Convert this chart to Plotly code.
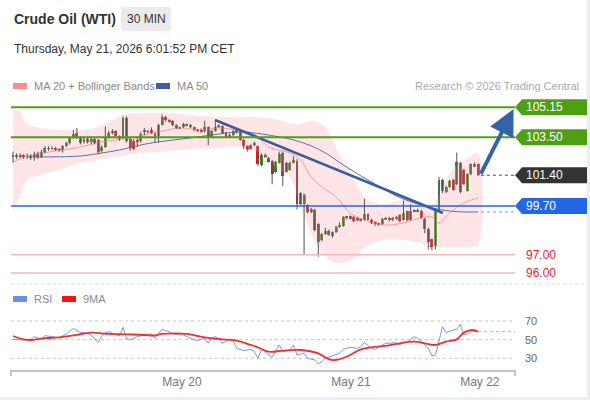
import plotly.graph_objects as go

FONT = "Liberation Sans, Arial, Helvetica, sans-serif"

# ---------------- data (30-min candles, index 0..131) ----------------
opens = [102.45, 102.50, 102.44, 102.48, 102.42, 102.46, 102.40, 102.58, 102.42, 102.70,
         102.90, 102.86, 102.88, 102.82, 102.78, 103.00, 103.18, 103.45, 103.72, 103.48,
         103.22, 103.40, 103.25, 103.40, 103.35, 102.75, 102.95, 103.48, 103.75, 103.85,
         103.55, 103.45, 104.55, 103.40, 103.30, 103.35, 103.30, 103.88, 103.80, 103.90,
         103.70, 103.55, 104.20, 104.62, 104.45, 104.40, 104.18, 104.02, 104.05, 104.20,
         104.18, 104.05, 103.90, 103.92, 103.82, 104.06, 103.50, 103.84, 104.08, 104.10,
         103.75, 103.55, 103.62, 103.85, 103.80, 103.35, 103.00, 102.85, 103.05, 103.00,
         101.98, 102.52, 102.35, 102.20, 101.55, 102.10, 102.60, 102.10, 101.70, 102.10,
         102.20, 100.40, 99.80, 99.75, 99.35, 99.50, 98.70, 97.80, 98.15, 98.30,
         98.05, 98.25, 98.55, 98.60, 99.10, 99.12, 99.10, 99.05, 98.95, 98.95,
         99.25, 98.95, 98.80, 98.68, 98.70, 98.98, 99.05, 98.90, 99.00, 99.20,
         98.95, 99.40, 98.95, 99.45, 99.40, 99.45, 99.00, 98.45, 97.85, 97.50,
         99.40, 100.50, 100.45, 100.75, 101.14, 100.90, 102.10, 101.70, 100.55, 101.45,
         101.90, 102.00]
closes = [102.52, 102.44, 102.48, 102.42, 102.46, 102.40, 102.58, 102.42, 102.70, 102.90,
          102.86, 102.88, 102.82, 102.80, 103.00, 103.18, 103.45, 103.70, 103.48, 103.20,
          103.40, 103.25, 103.40, 103.18, 102.70, 102.95, 103.48, 103.75, 103.85, 103.55,
          103.40, 104.55, 103.30, 102.90, 102.85, 103.25, 103.70, 103.80, 103.82, 103.75,
          103.55, 104.20, 104.62, 104.45, 104.35, 104.18, 104.02, 104.00, 104.22, 104.15,
          104.05, 103.88, 103.88, 103.82, 104.06, 103.45, 103.84, 104.05, 104.12, 103.75,
          103.52, 103.62, 103.85, 103.80, 103.35, 103.00, 102.85, 103.05, 103.18, 102.00,
          102.52, 102.42, 102.15, 101.45, 102.12, 102.55, 101.35, 101.60, 102.10, 102.25,
          99.80, 99.80, 100.30, 99.35, 99.55, 98.40, 97.70, 98.15, 98.30, 98.12,
          98.25, 98.55, 98.65, 99.10, 99.05, 99.00, 98.85, 98.90, 98.92, 99.25,
          98.95, 98.75, 98.68, 98.70, 98.98, 99.02, 98.90, 99.05, 99.08, 98.85,
          99.30, 98.90, 99.45, 99.40, 99.50, 99.05, 98.45, 97.70, 97.45, 99.50,
          101.15, 101.12, 100.75, 101.10, 100.60, 102.13, 100.45, 100.90, 101.45, 102.00,
          102.00, 101.40]
highs = [102.70, 102.60, 102.60, 102.55, 102.60, 102.55, 102.70, 102.70, 102.80, 103.00,
         103.00, 103.00, 102.95, 102.90, 103.05, 103.25, 103.50, 103.90, 104.00, 103.55,
         103.50, 103.50, 103.50, 103.45, 103.40, 103.05, 104.10, 103.85, 103.95, 103.90,
         103.60, 104.65, 104.65, 103.50, 103.40, 103.45, 103.80, 104.00, 103.90, 104.05,
         103.75, 104.25, 104.75, 104.68, 104.50, 104.45, 104.22, 104.08, 104.30, 104.25,
         104.22, 104.08, 103.95, 103.98, 104.40, 104.10, 103.90, 104.40, 104.20, 104.15,
         103.80, 103.70, 103.90, 103.95, 103.85, 103.40, 103.05, 103.10, 103.25, 103.05,
         102.60, 102.60, 102.40, 102.25, 102.20, 102.70, 102.70, 102.15, 102.15, 102.45,
         102.30, 100.45, 100.40, 99.80, 99.60, 99.55, 98.75, 98.20, 98.50, 98.40,
         98.30, 98.60, 98.80, 99.15, 99.15, 99.18, 99.15, 99.10, 99.00, 100.10,
         99.30, 99.00, 98.85, 98.78, 99.05, 99.10, 99.10, 99.10, 99.15, 99.25,
         100.00, 99.45, 99.80, 99.50, 99.55, 99.50, 99.05, 98.50, 97.90, 99.55,
         101.30, 101.20, 100.80, 101.15, 101.20, 102.65, 102.15, 101.75, 101.50, 102.05,
         102.10, 102.05]
lows = [102.10, 102.30, 102.35, 102.30, 102.30, 102.25, 102.20, 102.30, 102.35, 102.60,
        102.75, 102.80, 102.75, 102.70, 102.65, 102.95, 103.10, 103.40, 103.40, 103.10,
        103.15, 103.15, 103.10, 103.10, 102.55, 102.65, 102.90, 103.40, 103.65, 103.45,
        103.30, 103.40, 103.20, 102.75, 102.80, 102.95, 103.20, 103.60, 103.70, 103.70,
        103.20, 103.20, 104.15, 104.35, 104.30, 104.10, 103.95, 103.95, 104.00, 104.10,
        104.00, 103.82, 103.80, 103.75, 103.75, 103.05, 103.45, 103.80, 104.00, 103.70,
        103.45, 103.50, 103.55, 103.70, 103.30, 102.85, 102.70, 102.80, 103.00, 101.90,
        101.90, 102.35, 102.10, 100.90, 101.50, 102.05, 100.80, 101.55, 101.65, 102.05,
        99.50, 99.75, 97.00, 99.30, 99.30, 98.30, 96.90, 97.75, 98.10, 98.05,
        97.95, 98.20, 98.50, 98.55, 98.95, 98.95, 98.80, 98.85, 98.85, 98.90,
        98.90, 98.70, 98.60, 98.60, 98.65, 98.95, 98.85, 98.85, 98.95, 98.80,
        98.90, 98.85, 98.90, 99.35, 99.35, 99.00, 98.20, 97.30, 97.25, 97.30,
        99.35, 100.40, 100.40, 100.70, 100.55, 100.85, 100.40, 100.85, 100.50, 101.40,
        101.85, 101.35]

# Bollinger bands
bb_idx = [0, 2, 4, 8, 13, 19, 23, 27, 32, 36, 41, 47, 53, 58, 63, 68, 75, 80, 85, 88,
          92, 96, 99, 104, 110, 114, 118, 120, 122, 125, 128, 131]
bb_up = [105.11, 104.89, 104.23, 104.01, 103.90, 103.90, 104.01, 104.34, 104.78, 104.84,
         104.84, 104.78, 104.67, 104.62, 104.62, 104.62, 104.45, 104.23, 104.40, 104.06,
         102.52, 101.14, 100.20, 99.81, 100.03, 99.87, 99.64, 100.31, 101.14, 101.97,
         102.35, 102.63]
bl_idx = [0, 2, 4, 8, 13, 19, 23, 27, 32, 36, 41, 47, 53, 58, 63, 68, 72, 75, 78, 80,
          83, 86, 90, 93, 96, 99, 104, 110, 114, 118, 122, 126, 131]
bb_lo = [99.37, 100.20, 101.14, 101.41, 101.69, 102.08, 102.19, 102.35, 102.52, 102.63,
         102.68, 102.79, 102.85, 102.90, 102.95, 102.79, 102.24, 101.69, 101.30, 100.31,
         98.65, 97.38, 96.61, 96.55, 96.83, 97.38, 97.82, 97.82, 97.71, 97.49,
         97.43, 97.43, 97.55]
# MA 20
m20_idx = [0, 4, 10, 14, 19, 25, 33, 41, 47, 53, 58, 63, 68, 72, 78, 81, 84, 87, 91, 95,
           99, 104, 110, 115, 118, 120, 123, 127, 131]
m20 = [102.13, 102.46, 102.68, 102.79, 102.96, 103.24, 103.46, 103.79, 104.01, 103.90,
       104.01, 103.90, 103.68, 102.96, 102.63, 102.24, 101.30, 100.75, 100.20, 99.31,
       98.93, 98.65, 98.76, 99.04, 99.09, 98.76, 99.31, 99.87, 100.14]
# MA 50
m50_idx = [5, 10, 19, 25, 30, 36, 41, 50, 56, 64, 70, 75, 79, 84, 88, 93, 98, 103, 108, 113,
           118, 123, 127, 131]
m50 = [102.41, 102.41, 102.46, 102.63, 102.79, 103.07, 103.24, 103.46, 103.62, 103.79,
       103.68, 103.51, 103.35, 103.02, 102.63, 101.97, 101.36, 100.80, 100.25, 99.87,
       99.59, 99.42, 99.37, 99.37]

# RSI and its 9-period MA
rsi_idx = [0, 3, 5, 6, 8, 9, 11, 13, 15, 17, 19, 20, 22, 24, 25, 26, 27, 29, 30, 31,
           32, 33, 35, 37, 39, 40, 41, 42, 44, 45, 47, 48, 50, 52, 54, 55, 56, 57, 58, 59,
           61, 62, 63, 65, 67, 68, 69, 70, 71, 73, 75, 76, 78, 79, 80, 82, 83, 85, 86, 87,
           88, 90, 92, 93, 95, 97, 98, 99, 101, 102, 104, 105, 106, 108, 109, 110, 111, 113, 114, 115,
           117, 118, 119, 121, 122, 124, 125, 126, 127, 128, 130, 131]
rsi_val = [50.3, 49.6, 50.3, 53.2, 50.3, 54.3, 53.2, 51.8, 56.1, 62.1, 57.5, 57.8, 55.0, 46.8, 53.9, 57.5, 58.6, 55.0, 53.9, 63.2,
           51.4, 49.6, 53.2, 55.0, 56.1, 51.8, 56.1, 61.1, 58.6, 56.1, 55.0, 55.0, 51.4, 48.9, 51.8, 46.1, 51.8, 53.2, 51.1, 46.1,
           50.3, 48.9, 40.7, 38.2, 39.6, 37.1, 30.0, 39.6, 37.1, 31.0, 44.3, 37.1, 38.9, 44.3, 33.5, 35.3, 30.0, 28.2, 23.9, 26.4,
           30.0, 32.5, 35.3, 39.6, 41.8, 40.7, 42.5, 46.8, 40.7, 39.6, 44.3, 46.1, 46.1, 46.8, 44.3, 47.8, 46.8, 53.2, 51.4, 47.8,
           40.7, 32.5, 33.5, 63.9, 57.5, 60.3, 61.1, 66.4, 55.0, 56.1, 61.1, 58.6]
ma9_idx = [0, 3, 5, 8, 13, 18, 22, 27, 32, 37, 40, 42, 46, 49, 52, 55, 59, 63, 67, 69,
           72, 76, 81, 86, 89, 91, 94, 98, 101, 105, 109, 113, 116, 119, 122, 125, 127, 129, 131]
ma9_val = [53.9, 50.3, 49.6, 51.1, 52.5, 55.0, 57.5, 56.1, 55.7, 55.0, 54.5, 56.1, 56.8, 56.1, 53.9, 51.8, 50.3, 48.9, 44.3, 41.8,
           37.1, 38.2, 38.9, 35.3, 28.9, 28.2, 31.7, 39.6, 41.8, 43.2, 46.1, 47.8, 46.1, 44.3, 47.8, 50.3, 57.5, 60.3, 58.6]

# analysis drawings
trend_idx = [56.9, 121.1]
trend_px = [104.45, 99.31]
arrow_idx = [131.6, 141.0]
arrow_px = [101.40, 105.05]

level_vals = [105.15, 103.50, 101.40, 99.70, 97.00, 96.00]
level_text = ["105.15", "103.50", "101.40", "99.70", "97.00", "96.00"]
ma50_last = 99.37

tick_idx = [47.6, 95.2, 131.5]
tick_labels = ["May 20", "May 21", "May 22"]
rsi_levels = [70, 50, 30]

# ---------------- geometry helpers ----------------
W, H = 590, 400
L, R, T, B = 11, 75, 95, 30
PW, PH = W - L - R, H - T - B


def px(x):
    return (x - L) / PW


def py(y):
    return (H - B - y) / PH


X_RANGE = [-0.56, 141.41]
PRICE_RANGE = [95.39, 105.83]
RSI_RANGE = [17.45, 92.5]

GREEN = "#4e9f12"
BLUE_LVL = "#2466e6"
DARK = "#333333"
RED_TXT = "#e8242c"
RED_LINE = "#f6b8b8"
UP = "#3a8a2e"
DOWN = "#e0161b"

n = len(closes)
idx = list(range(n))

fig = go.Figure()

# Bollinger band fill
fig.add_trace(go.Scatter(
    x=bb_idx + bl_idx[::-1], y=bb_up + bb_lo[::-1], mode="lines",
    fill="toself", fillcolor="rgba(255,180,180,0.34)",
    line=dict(width=0, shape="spline", smoothing=0.8), hoverinfo="skip"))
# MA20 / MA50
fig.add_trace(go.Scatter(x=m20_idx, y=m20, mode="lines",
                         line=dict(color="#f59c9c", width=1, shape="spline"), hoverinfo="skip"))
fig.add_trace(go.Scatter(x=m50_idx, y=m50, mode="lines",
                         line=dict(color="#5473b0", width=1, shape="spline"), hoverinfo="skip"))

# candle wicks
wx, wy = [], []
for i in idx:
    wx += [i, i, None]
    wy += [lows[i], highs[i], None]
fig.add_trace(go.Scatter(x=wx, y=wy, mode="lines", line=dict(color="#555555", width=1),
                         hoverinfo="skip"))
# candle bodies
bases = [min(o, c) for o, c in zip(opens, closes)]
heights = [max(abs(c - o), 0.04) for o, c in zip(opens, closes)]
colors = [UP if c >= o else DOWN for o, c in zip(opens, closes)]
fig.add_trace(go.Bar(x=idx, y=heights, base=bases, marker=dict(color=colors, line=dict(width=0)),
                     width=0.82, hoverinfo="skip"))

# trend line
fig.add_trace(go.Scatter(x=trend_idx, y=trend_px, mode="lines",
                         line=dict(color="#3a5c9e", width=2.5), hoverinfo="skip"))

# RSI
fig.add_trace(go.Scatter(x=rsi_idx, y=rsi_val, mode="lines", yaxis="y2",
                         line=dict(color="#7597ea", width=1), hoverinfo="skip"))
fig.add_trace(go.Scatter(x=ma9_idx, y=ma9_val, mode="lines", yaxis="y2",
                         line=dict(color="#f03030", width=1.8, shape="spline"), hoverinfo="skip"))

shapes = []
annotations = []

# frame strips
shapes.append(dict(type="rect", xref="paper", yref="paper", x0=px(587), x1=px(590),
                   y0=py(400), y1=py(0), fillcolor="#eceef1", line=dict(width=0), layer="below"))
shapes.append(dict(type="rect", xref="paper", yref="paper", x0=px(0), x1=px(590),
                   y0=py(400), y1=py(397), fillcolor="#eceef1", line=dict(width=0), layer="below"))
# panel separator
shapes.append(dict(type="line", xref="paper", yref="paper", x0=px(11), x1=px(587),
                   y0=py(284), y1=py(284), line=dict(color="#dddddd", width=1, dash="dot")))

# level lines + labels
line_styles = [dict(color=GREEN, width=2), dict(color=GREEN, width=2), None,
               dict(color=BLUE_LVL, width=1.5), dict(color=RED_LINE, width=1.5),
               dict(color=RED_LINE, width=1.5)]
box_colors = [GREEN, GREEN, DARK, BLUE_LVL, None, None]
for v, t, ls, bc in zip(level_vals, level_text, line_styles, box_colors):
    if ls is not None:
        shapes.append(dict(type="line", xref="paper", yref="y", x0=0, x1=1, y0=v, y1=v,
                           line=ls, layer="above"))
    if bc is not None:
        shapes.append(dict(type="path", xref="paper", yref="y", xsizemode="pixel",
                           ysizemode="pixel", xanchor=1, yanchor=v,
                           path="M0,0 L7,8 L72,8 L72,-8 L7,-8 Z",
                           fillcolor=bc, line=dict(width=0)))
        annotations.append(dict(xref="paper", yref="y", x=1, y=v, xanchor="left",
                                yanchor="middle", xshift=9, text=t, showarrow=False,
                                font=dict(family=FONT, size=12, color="white")))
    else:
        annotations.append(dict(xref="paper", yref="y", x=1, y=v, xanchor="left",
                                yanchor="middle", xshift=9, text=t, showarrow=False,
                                font=dict(family=FONT, size=12, color=RED_TXT)))

# dotted extensions (last price and MA50)
shapes.append(dict(type="line", xref="x", yref="y", x0=arrow_idx[0] + 0.2, x1=X_RANGE[1],
                   y0=closes[-1], y1=closes[-1], line=dict(color="#444444", width=1, dash="dot")))
shapes.append(dict(type="line", xref="x", yref="y", x0=arrow_idx[0] + 0.2, x1=X_RANGE[1],
                   y0=ma50_last, y1=ma50_last, line=dict(color="#7f98cc", width=1, dash="dot")))

# arrow
annotations.append(dict(x=arrow_idx[1], y=arrow_px[1], ax=arrow_idx[0], ay=arrow_px[0],
                        xref="x", yref="y", axref="x", ayref="y", showarrow=True, text="",
                        arrowhead=2, arrowsize=1.3, arrowwidth=4, arrowcolor="#3563a8", standoff=0))

# RSI grid + labels
for lv in rsi_levels:
    shapes.append(dict(type="line", xref="paper", yref="y2", x0=0, x1=1, y0=lv, y1=lv,
                       line=dict(color="#c4c4c4", width=1, dash="dot"), layer="below"))
    annotations.append(dict(xref="paper", yref="y2", x=1, y=lv, xanchor="left", yanchor="middle",
                            xshift=8, text=str(lv), showarrow=False,
                            font=dict(family=FONT, size=11, color="#666666")))
shapes.append(dict(type="line", xref="x", yref="y2", x0=rsi_idx[-1], x1=X_RANGE[1],
                   y0=rsi_val[-1], y1=rsi_val[-1], line=dict(color="#9db3ee", width=1, dash="dot")))

# x-axis end ticks
for xe in (0, 1):
    shapes.append(dict(type="line", xref="paper", yref="paper", x0=xe, x1=xe,
                       y0=py(370), y1=py(376), line=dict(color="#c4c4c4", width=2)))

# header
annotations.append(dict(xref="paper", yref="paper", x=px(12), y=py(19), xanchor="left",
                        yanchor="middle", text="<b>Crude Oil (WTI)</b>", showarrow=False,
                        font=dict(family=FONT, size=14, color="#333333")))
shapes.append(dict(type="rect", xref="paper", yref="paper", x0=px(121), x1=px(171),
                   y0=py(31), y1=py(7), fillcolor="#ebebeb", line=dict(width=0)))
annotations.append(dict(xref="paper", yref="paper", x=px(146), y=py(19), xanchor="center",
                        yanchor="middle", text="30 MIN", showarrow=False,
                        font=dict(family=FONT, size=12, color="#333333")))
annotations.append(dict(xref="paper", yref="paper", x=px(12), y=py(49), xanchor="left",
                        yanchor="middle", text="Thursday, May 21, 2026 6:01:52 PM CET",
                        showarrow=False, font=dict(family=FONT, size=12, color="#333333")))

# legends
def legend_item(x, y, color, text):
    shapes.append(dict(type="rect", xref="paper", yref="paper", x0=px(x), x1=px(x + 14),
                       y0=py(y + 3), y1=py(y - 3), fillcolor=color, line=dict(width=0)))
    annotations.append(dict(xref="paper", yref="paper", x=px(x + 19), y=py(y), xanchor="left",
                            yanchor="middle", text=text, showarrow=False,
                            font=dict(family=FONT, size=11, color="#8a8a8a")))


legend_item(13, 86, "#ff8a8a", "MA 20 + Bollinger Bands")
legend_item(156, 86, "#3d5f9f", "MA 50")
legend_item(13, 299, "#6a8fe8", "RSI")
legend_item(62, 299, "#ff1010", "9MA")
annotations.append(dict(xref="paper", yref="paper", x=px(581), y=py(86), xanchor="right",
                        yanchor="middle", text="Research © 2026 Trading Central", showarrow=False,
                        font=dict(family=FONT, size=11, color="#aaaaaa")))

fig.update_layout(
    width=W, height=H, autosize=False,
    margin=dict(l=L, r=R, t=T, b=B, pad=0),
    paper_bgcolor="white", plot_bgcolor="white",
    showlegend=False, bargap=0,
    font=dict(family=FONT),
    xaxis=dict(domain=[0, 1], range=X_RANGE, anchor="y2", showline=True, linecolor="#c4c4c4",
               linewidth=2, showgrid=False, zeroline=False, tickvals=tick_idx,
               ticktext=tick_labels, ticks="", tickfont=dict(family=FONT, size=12, color="#777777")),
    yaxis=dict(domain=[py(284), 1], range=PRICE_RANGE, visible=False, fixedrange=True),
    yaxis2=dict(domain=[0, py(300)], range=RSI_RANGE, visible=False, fixedrange=True),
    shapes=shapes, annotations=annotations,
)

fig.write_html("out.html", config={"displayModeBar": False},
               post_script="document.body.style.margin='0';document.body.style.padding='0';")
